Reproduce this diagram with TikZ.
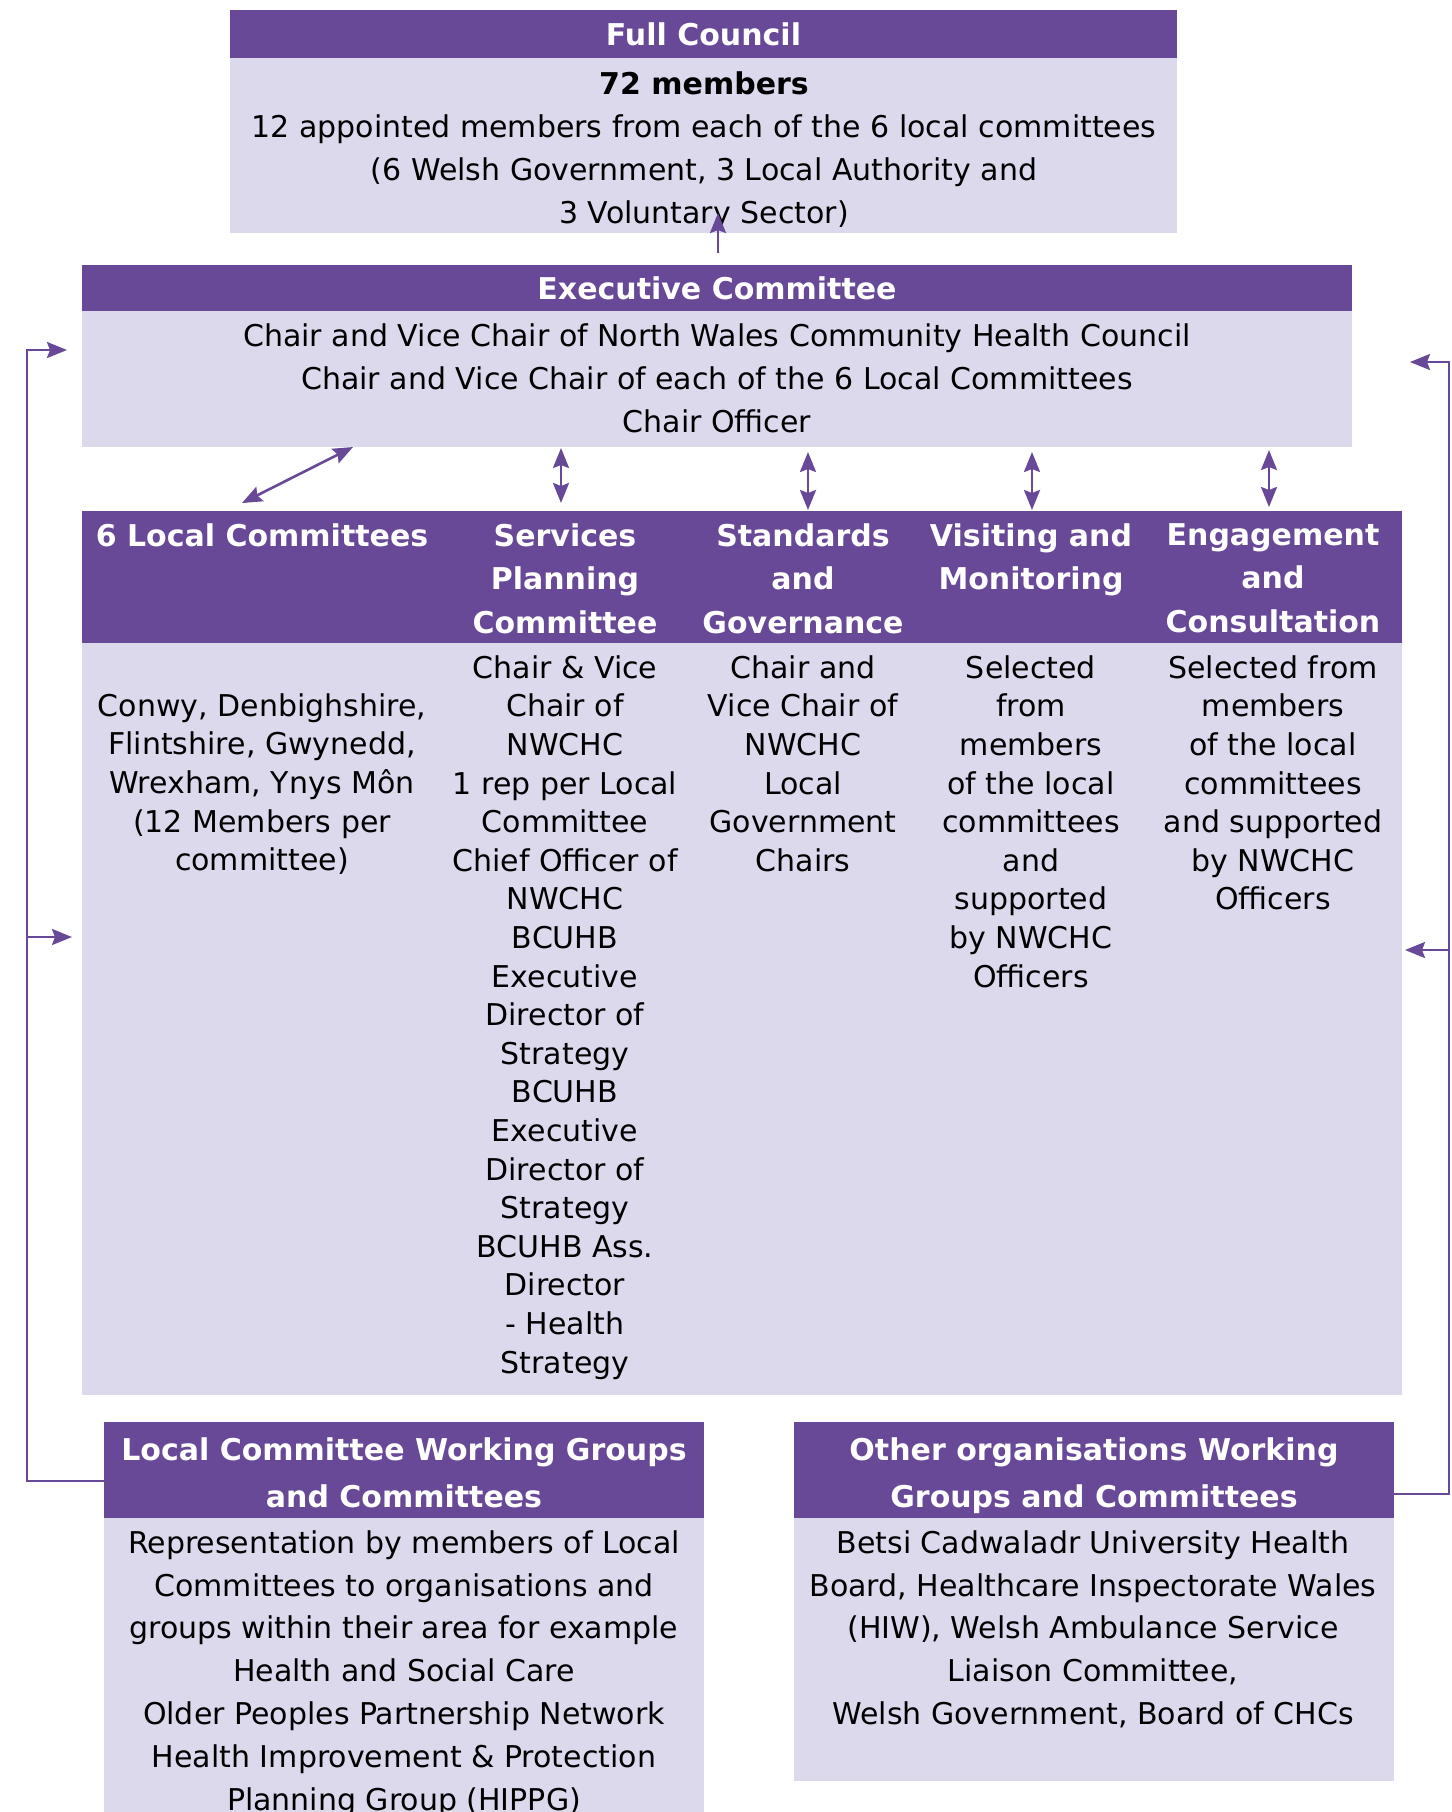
\documentclass[tikz,border=0pt]{standalone}
\usepackage{fontspec}
\setmainfont{DejaVu Sans}
\usetikzlibrary{arrows.meta}
\definecolor{cpurple}{RGB}{104,73,151}
\definecolor{clight}{RGB}{221,217,237}
\tikzset{
  hdr/.style={fill=cpurple, text=white, inner sep=0pt, font=\bfseries\fontsize{15pt}{23pt}\selectfont, align=center},
  bodybox/.style={fill=clight, inner sep=0pt},
  txt/.style={inner sep=0pt, anchor=north, align=center, text=black},
  htxt/.style={inner sep=0pt, anchor=north, align=center, text=white, font=\bfseries\fontsize{15pt}{21.75pt}\selectfont},
  conn/.style={draw=cpurple, line width=1.3pt},
  tipone/.style={-{Stealth[length=10pt,width=8pt,inset=1.5pt]}},
  tiptwo/.style={{Stealth[length=10pt,width=8pt,inset=1.5pt]}-{Stealth[length=10pt,width=8pt,inset=1.5pt]}},
}
\begin{document}
\begin{tikzpicture}[x=0.5pt,y=-0.5pt]
\useasboundingbox (0,0) rectangle (1452,1812);
\clip (0,0) rectangle (1452,1812);

% Full Council
\node[hdr, minimum width=473.5pt, minimum height=24pt] (fcH) at (703.5,34) {Full Council};
\node[bodybox, minimum width=473.5pt, minimum height=87.5pt] (fcB) at (703.5,145.5) {};
\node[txt, font=\fontsize{15pt}{21.5pt}\selectfont] (fcT) at (704,71)
  {\textbf{72 members}\\12 appointed members from each of the 6 local committees\\(6 Welsh Government, 3 Local Authority and\\3 Voluntary Sector)};

% Executive Committee
\node[hdr, minimum width=635pt, minimum height=23.5pt] (ecH) at (717,288) {Executive Committee};
\node[bodybox, minimum width=635pt, minimum height=68pt] (ecB) at (717,379) {};
\node[txt, font=\fontsize{15pt}{21.5pt}\selectfont] (ecT) at (717,323)
  {Chair and Vice Chair of North Wales Community Health Council\\Chair and Vice Chair of each of the 6 Local Committees\\Chair Officer};

% Band of committees
\node[hdr, minimum width=660pt, minimum height=66pt] (bdH) at (742,577) {};
\node[bodybox, minimum width=660pt, minimum height=376pt] (bdB) at (742,1019) {};

\node[htxt] (h1) at (262,523) {6 Local Committees};
\node[htxt] (h2) at (565,523) {Services\\Planning\\Committee};
\node[htxt] (h3) at (803,523) {Standards\\and\\Governance};
\node[htxt] (h4) at (1031,523) {Visiting and\\Monitoring};
\node[htxt] (h5) at (1273,523) {Engagement\\and\\Consultation};

\begin{scope}[every node/.append style={font=\fontsize{15pt}{19.3pt}\selectfont}]
\node[txt] (b1) at (262,693) {Conwy, Denbighshire,\\Flintshire, Gwynedd,\\Wrexham, Ynys Môn\\(12 Members per\\committee)};
\node[txt] (b2) at (565,655) {Chair \& Vice\\Chair of\\NWCHC\\1 rep per Local\\Committee\\Chief Officer of\\NWCHC\\BCUHB\\Executive\\Director of\\Strategy\\BCUHB\\Executive\\Director of\\Strategy\\BCUHB Ass.\\Director\\- Health\\Strategy};
\node[txt] (b3) at (803,655) {Chair and\\Vice Chair of\\NWCHC\\Local\\Government\\Chairs};
\node[txt] (b4) at (1031,655) {Selected\\from\\members\\of the local\\committees\\and\\supported\\by NWCHC\\Officers};
\node[txt] (b5) at (1273,655) {Selected from\\members\\of the local\\committees\\and supported\\by NWCHC\\Officers};
\end{scope}

% Bottom left box
\node[hdr, minimum width=300pt, minimum height=48pt] (lwH) at (404,1470) {};
\node[htxt, font=\bfseries\fontsize{15pt}{23.5pt}\selectfont] (lwHT) at (404,1437) {Local Committee Working Groups\\and Committees};
\node[bodybox, minimum width=300pt, minimum height=156pt] (lwB) at (404,1674) {};
\node[txt, font=\fontsize{15pt}{21.4pt}\selectfont] (lwT) at (404,1530)
  {Representation by members of Local\\Committees to organisations and\\groups within their area for example\\Health and Social Care\\Older Peoples Partnership Network\\Health Improvement \& Protection\\Planning Group (HIPPG)};

% Bottom right box
\node[hdr, minimum width=300pt, minimum height=48pt] (owH) at (1094,1470) {};
\node[htxt, font=\bfseries\fontsize{15pt}{23.5pt}\selectfont] (owHT) at (1094,1437) {Other organisations Working\\Groups and Committees};
\node[bodybox, minimum width=300pt, minimum height=131.5pt] (owB) at (1094,1649.5) {};
\node[txt, font=\fontsize{15pt}{21.4pt}\selectfont] (owT) at (1093,1530)
  {Betsi Cadwaladr University Health\\Board, Healthcare Inspectorate Wales\\(HIW), Welsh Ambulance Service\\Liaison Committee,\\Welsh Government, Board of CHCs};

% Connector end points
\coordinate (ecUp) at (718,253);
\coordinate (fcIn) at (718,213);
\coordinate (d1a) at (353,447);
\coordinate (d1b) at (242,503);
\coordinate (d2a) at (561,448);
\coordinate (d2b) at (561,503);
\coordinate (d3a) at (808,452);
\coordinate (d3b) at (808,510);
\coordinate (d4a) at (1032,452);
\coordinate (d4b) at (1032,510);
\coordinate (d5a) at (1269,450);
\coordinate (d5b) at (1269,507);

\coordinate (lwgIn) at (104,1481);
\coordinate (lcB) at (27,1481);
\coordinate (execInL) at (67,350);
\coordinate (lcM) at (27,937);
\coordinate (bandInL) at (72,937);

\coordinate (owgOut) at (1394,1494);
\coordinate (rcB) at (1449,1494);
\coordinate (execInR) at (1410,362);
\coordinate (rcM) at (1449,950);
\coordinate (bandInR) at (1405,950);

% Connectors
\draw[conn, tipone] (ecUp) -- (fcIn);
\draw[conn, tiptwo] (d1a) -- (d1b);
\draw[conn, tiptwo] (d2a) -- (d2b);
\draw[conn, tiptwo] (d3a) -- (d3b);
\draw[conn, tiptwo] (d4a) -- (d4b);
\draw[conn, tiptwo] (d5a) -- (d5b);

\draw[conn, tipone] (lwgIn) -- (lcB) |- (execInL);
\draw[conn, tipone] (lcM) -- (bandInL);
\draw[conn, tipone] (owgOut) -- (rcB) |- (execInR);
\draw[conn, tipone] (rcM) -- (bandInR);
\end{tikzpicture}
\end{document}
